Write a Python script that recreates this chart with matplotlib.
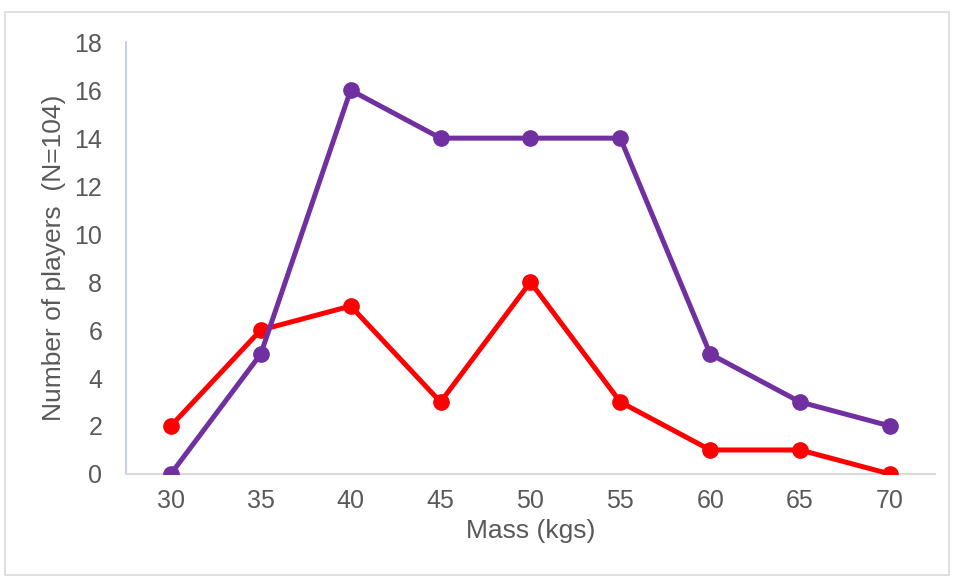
import matplotlib.pyplot as plt
from matplotlib.patches import Rectangle

plt.rcParams['font.family'] = ['Liberation Sans', 'DejaVu Sans']

# Data dari grafik
mass = [30, 35, 40, 45, 50, 55, 60, 65, 70]
purple_counts = [0, 5, 16, 14, 14, 14, 5, 3, 2]
red_counts = [2, 6, 7, 3, 8, 3, 1, 1, 0]
y_ticks = list(range(0, 19, 2))

text_color = '#595959'

fig = plt.figure(figsize=(9.54, 5.78), dpi=100)
ax = fig.add_axes([0.132, 0.180, 0.848, 0.747])

# Bingkai abu-abu di sekeliling gambar
fig.patches.append(Rectangle((5 / 954, 3 / 578), 944 / 954, 563 / 578,
                             transform=fig.transFigure, fill=False,
                             edgecolor='#D9D9D9', linewidth=1.2))

ax.plot(mass, red_counts, color='#FF0000', linewidth=3.6, marker='o',
        markersize=11, zorder=3)
ax.plot(mass, purple_counts, color='#7030A0', linewidth=3.6, marker='o',
        markersize=11, zorder=4)

ax.set_xlim(27.5, 72.5)
ax.set_ylim(0, 18)
ax.set_xticks(mass)
ax.set_yticks(y_ticks)
ax.tick_params(axis='both', length=0, labelsize=18, colors=text_color)
ax.tick_params(axis='y', pad=17)
ax.tick_params(axis='x', pad=11)

for side in ['top', 'right']:
    ax.spines[side].set_visible(False)
ax.spines['left'].set_color('#B4C7E7')
ax.spines['bottom'].set_color('#D9D9D9')
ax.spines['left'].set_linewidth(1.2)
ax.spines['bottom'].set_linewidth(1.5)
ax.spines['left'].set_zorder(1)
ax.spines['bottom'].set_zorder(1)

ax.set_xlabel('Mass (kgs)', fontsize=19, color=text_color, labelpad=4)
ax.set_ylabel('Number of players  (N=104)', fontsize=19, color=text_color, labelpad=6)

fig.savefig('out.png', dpi=100)
